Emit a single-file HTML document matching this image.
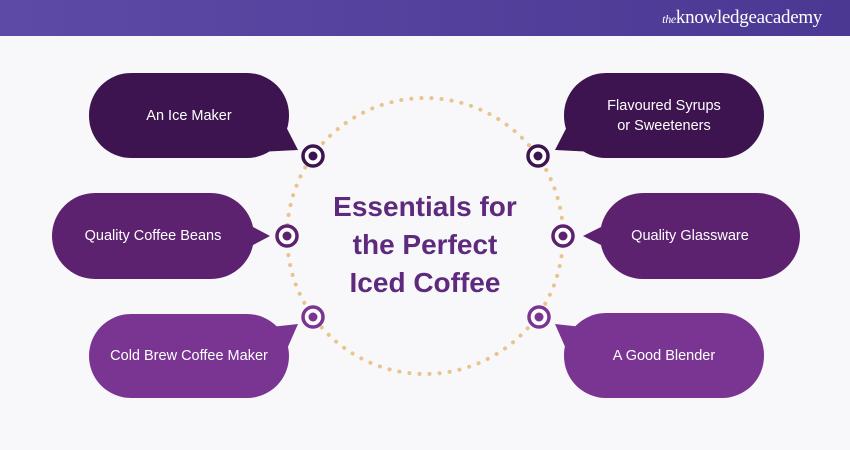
<!DOCTYPE html>
<html><head><meta charset="utf-8"><style>
body{margin:0;width:850px;height:450px;background:#f8f8fa;font-family:"Liberation Sans",sans-serif;overflow:hidden;position:relative}
.hdr{position:absolute;left:0;top:0;width:850px;height:36px;background:linear-gradient(90deg,#5c4aa6,#4b3893)}
.logo{position:absolute;right:28px;top:7px;color:#fff;font-family:"Liberation Serif",serif;font-size:19px;letter-spacing:-0.3px}
.logo i{font-size:12px}
.t{position:absolute;color:#fff;font-size:14.5px;text-align:center;display:flex;align-items:center;justify-content:center;line-height:20px}
.title{position:absolute;left:290px;top:188px;width:270px;text-align:center;color:#5e2a7e;font-weight:bold;font-size:28px;line-height:38px}
</style></head><body>
<div class="hdr"><div class="logo"><i>the</i>knowledgeacademy</div></div>
<svg width="850" height="450" style="position:absolute;left:0;top:0">
<circle cx="425" cy="236" r="138" fill="none" stroke="#e8c48e" stroke-width="4" stroke-dasharray="0.1 10" stroke-linecap="round"/>
<g>
<rect x="89" y="73" width="200" height="85" rx="42" fill="#3e1450"/>
<polygon points="262,118 280,115 298,150 258,152" fill="#3e1450"/>
<rect x="52" y="193" width="202" height="86" rx="43" fill="#5c2270"/>
<polygon points="240,220 270,236 240,252" fill="#5c2270"/>
<rect x="89" y="314" width="200" height="84" rx="42" fill="#7a3592"/>
<polygon points="262,328 298,324 283,358 258,352" fill="#7a3592"/>
<rect x="564" y="73" width="200" height="85" rx="42" fill="#3e1450"/>
<polygon points="591,118 573,115 555,150 595,152" fill="#3e1450"/>
<rect x="600" y="193" width="200" height="86" rx="43" fill="#5c2270"/>
<polygon points="615,220 583,236 615,252" fill="#5c2270"/>
<rect x="564" y="313" width="200" height="85" rx="42" fill="#7a3592"/>
<polygon points="591,328 555,324 570,358 595,352" fill="#7a3592"/>
</g>
<g fill="#fff" stroke-width="3.5">
<circle cx="313" cy="156" r="10" stroke="#3e1450"/><circle cx="313" cy="156" r="4.5" fill="#3e1450"/>
<circle cx="287" cy="236" r="10" stroke="#5c2270"/><circle cx="287" cy="236" r="4.5" fill="#5c2270"/>
<circle cx="313" cy="317" r="10" stroke="#7a3592"/><circle cx="313" cy="317" r="4.5" fill="#7a3592"/>
<circle cx="538" cy="156" r="10" stroke="#3e1450"/><circle cx="538" cy="156" r="4.5" fill="#3e1450"/>
<circle cx="563" cy="236" r="10" stroke="#5c2270"/><circle cx="563" cy="236" r="4.5" fill="#5c2270"/>
<circle cx="539" cy="317" r="10" stroke="#7a3592"/><circle cx="539" cy="317" r="4.5" fill="#7a3592"/>
</g>
</svg>
<div class="t" style="left:89px;top:73px;width:200px;height:85px">An Ice Maker</div>
<div class="t" style="left:52px;top:193px;width:202px;height:86px">Quality Coffee Beans</div>
<div class="t" style="left:89px;top:314px;width:200px;height:84px">Cold Brew Coffee Maker</div>
<div class="t" style="left:564px;top:73px;width:200px;height:85px">Flavoured Syrups<br>or Sweeteners</div>
<div class="t" style="left:600px;top:193px;width:180px;height:86px">Quality Glassware</div>
<div class="t" style="left:564px;top:313px;width:200px;height:85px">A Good Blender</div>
<div class="title">Essentials for<br>the Perfect<br>Iced Coffee</div>
</body></html>
